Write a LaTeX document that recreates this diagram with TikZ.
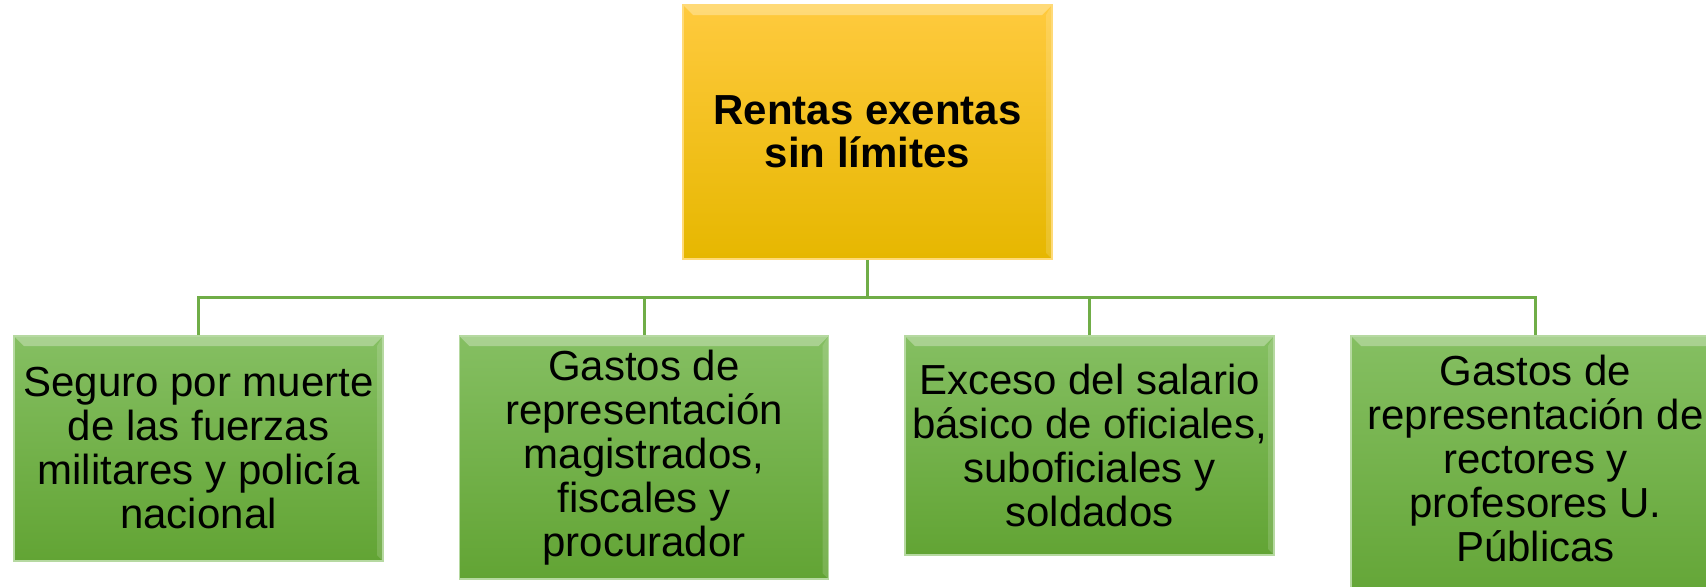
\documentclass[tikz,border=0pt]{standalone}
\usepackage{fontspec}
\setmainfont{Liberation Sans}
\definecolor{linkgreen}{HTML}{70AD47}
\definecolor{goldtop}{HTML}{FFCA3E}
\definecolor{goldmid}{HTML}{FFC000}
\definecolor{goldbot}{HTML}{E6B700}
\definecolor{leaftop}{HTML}{85BF62}
\definecolor{leafmid}{HTML}{70AF48}
\definecolor{leafbot}{HTML}{62A434}

\begin{document}
\begin{tikzpicture}[x=0.5pt, y=-0.5pt,
  bevel/.style={path picture={
    \fill[white, opacity=0.3] (path picture bounding box.north west) -- (path picture bounding box.north east)
      -- ([xshift=-5pt,yshift=-5pt]path picture bounding box.north east) -- ([xshift=5pt,yshift=-5pt]path picture bounding box.north west) -- cycle;
    \fill[white, opacity=0.15] (path picture bounding box.north east) -- (path picture bounding box.south east)
      -- ([xshift=-3pt,yshift=3pt]path picture bounding box.south east) -- ([xshift=-3pt,yshift=-5pt]path picture bounding box.north east) -- cycle;}},
  topbox/.style={bevel, draw=goldtop!70!white, line width=0.8pt, top color=goldtop, middle color=goldmid, bottom color=goldbot,
    minimum width=184.5pt, minimum height=127pt, inner sep=0pt, align=center, font=\fontsize{21}{21.5}\selectfont\bfseries},
  leafbox/.style={bevel, draw=leaftop!60!white, line width=0.8pt, top color=leaftop, middle color=leafmid, bottom color=leafbot,
    minimum width=184.5pt, inner sep=0pt, align=center, font=\fontsize{21}{22}\selectfont},
  link/.style={draw=linkgreen, line width=1.5pt}]
\clip (0,0) rectangle (1706,586);

% root
\node[topbox] (rentas) at (867.5,132) {Rentas exentas\\sin límites};

% leaves
\node[leafbox, minimum height=112.5pt] (seguro) at (198.5,448.5) {Seguro por muerte\\de las fuerzas\\militares y policía\\nacional};
\node[leafbox, minimum height=121.5pt] (magistrados) at (644,457.5) {Gastos de\\representación\\magistrados,\\fiscales y\\procurador};
\node[leafbox, minimum height=109.5pt] (oficiales) at (1089.5,445.5) {Exceso del salario\\básico de oficiales,\\suboficiales y\\soldados};
\node[leafbox, minimum height=138pt] (rectores) at (1535.5,474) {};
\node[align=center, font=\fontsize{21}{22}\selectfont, inner sep=0pt] (rectorestxt) at (1535.5,458) {Gastos de\\representación de\\rectores y\\profesores U.\\Públicas};

% connectors
\coordinate (bus) at (867.5,297);
\draw[link] (rentas.south) -- (bus);
\draw[link] (bus) -| (seguro.north);
\draw[link] (bus) -| (magistrados.north);
\draw[link] (bus) -| (oficiales.north);
\draw[link] (bus) -| (rectores.north);
\end{tikzpicture}
\end{document}
